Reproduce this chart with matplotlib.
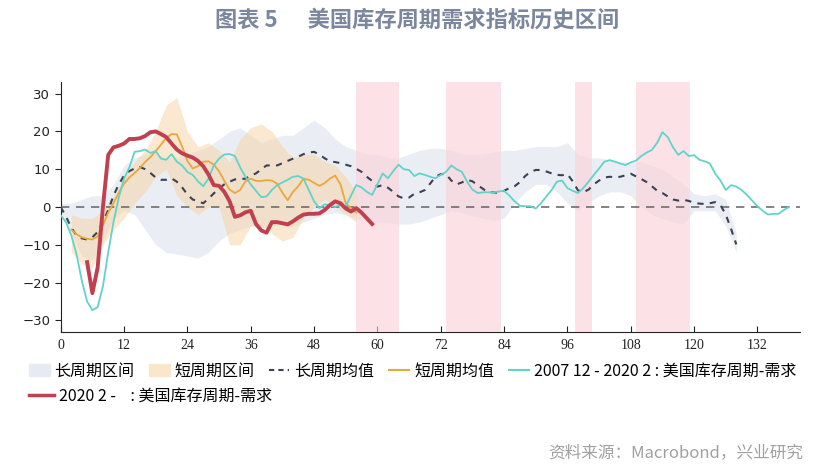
import numpy as np
import matplotlib
matplotlib.use("Agg")
import matplotlib.pyplot as plt
from matplotlib.patches import Patch
from matplotlib.lines import Line2D

plt.rcParams['font.family'] = ['Noto Sans CJK SC', 'DejaVu Sans']

# ---- data ----
months_teal_start = 0
teal = [-2.2, -4.0, -7.5, -12.5, -19.5, -25.0, -27.3, -26.5, -21.0, -12.0,
        -4.0, 2.5, 7.5, 10.5, 14.6, 14.8, 15.2, 14.3, 14.8, 12.8,
        12.5, 14.0, 12.0, 11.0, 9.3, 8.5, 6.8, 5.5, 7.5, 11.0,
        12.8, 13.9, 14.0, 13.5, 10.5, 8.0, 6.0, 4.3, 2.6, 2.8,
        4.5, 5.8, 6.5, 7.2, 8.0, 8.2, 7.5, 4.5, 1.5, -0.3,
        0.7, 0.5, 0.0, 0.6, 0.2, 3.0, 5.8, 5.2, 4.0, 3.2,
        6.0, 8.9, 7.6, 9.5, 11.2, 10.0, 9.8, 8.2, 8.9, 8.5,
        8.0, 7.6, 8.5, 9.3, 11.0, 10.0, 9.3, 6.7, 4.6, 3.7,
        3.9, 3.9, 3.9, 4.1, 4.3, 3.0, 1.5, 0.3, 0.2, 0.2,
        -0.4, 1.0, 2.8, 4.5, 6.7, 7.0, 5.0, 4.3, 3.7, 5.0,
        6.7, 8.5, 10.2, 12.0, 12.4, 12.0, 11.5, 11.1, 11.8, 12.3,
        13.5, 14.4, 15.1, 17.0, 19.8, 18.5, 15.8, 13.8, 14.8, 13.5,
        13.7, 12.5, 12.1, 11.5, 8.8, 7.0, 4.5, 5.8, 5.4, 4.5,
        3.2, 1.7, 0.2, -1.0, -2.0, -1.8, -1.8, -0.8, 0.0]

months_red_start = 5
red = [-14.6, -22.8, -16.0, 0.0, 13.8, 15.8, 16.2, 16.8, 18.0, 18.0,
       18.2, 18.8, 19.8, 20.0, 19.3, 18.5, 16.8, 15.2, 14.2, 13.6,
       13.1, 12.2, 10.8, 8.6, 5.8, 5.6, 4.0, 1.5, -2.6, -2.2,
       -1.4, -1.0, -4.5, -6.2, -6.8, -4.0, -4.0, -4.3, -4.6, -3.8,
       -2.8, -2.0, -1.8, -1.8, -1.7, -0.8, 0.5, 1.5, 1.0, -0.4,
       -1.2, -0.3, -1.5, -3.0, -4.5]

months_long_start = 0
long_mean = [0.0, -2.5, -5.5, -7.5, -8.3, -8.6, -8.0, -6.6, -4.0, -0.8,
             3.0, 6.0, 8.3, 9.5, 10.2, 10.6, 10.0, 9.0, 7.8, 7.2,
             7.2, 7.6, 6.7, 5.2, 3.3, 2.0, 1.5, 1.0, 2.2, 3.6,
             4.9, 6.0, 6.7, 7.3, 7.4, 7.5, 8.3, 8.9, 10.0, 11.0,
             11.0, 11.0, 11.6, 12.2, 12.8, 13.3, 14.0, 14.4, 14.6, 13.9,
             12.9, 12.1, 11.9, 11.6, 11.2, 10.8, 10.1, 9.3, 8.0, 6.9,
             5.4, 5.8, 5.1, 4.0, 2.8, 2.3, 2.5, 3.5, 3.9, 4.5,
             6.2, 8.0, 8.7, 8.7, 7.0, 6.0, 6.5, 7.2, 6.8, 5.8,
             4.8, 3.9, 3.9, 3.7, 4.3, 5.0, 5.5, 6.6, 8.2, 9.3,
             9.8, 9.8, 9.4, 8.9, 8.5, 8.4, 8.7, 6.8, 4.4, 3.9,
             4.6, 6.0, 7.0, 7.8, 8.0, 7.9, 8.0, 8.4, 8.8, 8.1,
             7.4, 6.6, 5.5, 4.3, 3.7, 2.8, 2.0, 1.7, 1.9, 1.6,
             1.1, 0.9, 0.8, 1.0, 1.3, 0.5, -2.0, -5.8, -9.9]

months_short_start = 2
short_mean = [-6.0, -7.2, -8.0, -8.4, -8.6, -7.8, -4.8, -1.5, 1.0, 3.8,
              6.2, 7.8, 9.0, 10.3, 11.9, 13.2, 14.8, 16.5, 18.3, 19.3,
              19.2, 16.0, 12.2, 10.2, 10.8, 12.0, 12.1, 11.2, 9.5, 6.9,
              4.6, 3.7, 4.5, 6.8, 7.5, 6.9, 6.9, 7.1, 7.0, 6.2,
              3.8, 1.8, 4.0, 5.5, 7.5, 7.2, 6.4, 5.6, 6.3, 7.5,
              8.3, 6.0, 1.0, -0.3, -1.5]

# band edges, sampled every 2 months
long_band_x = list(range(0, 130, 2))
long_upper = [1, 1, 2, 3, 3, 6, 11, 13, 14, 14,
              13, 13, 14, 15, 16, 18, 20, 21, 19, 17,
              18, 19, 19, 21, 23, 21, 18, 16, 15, 14,
              14, 13, 13, 14, 15, 15.5, 15.5, 15, 14, 14,
              14, 14.5, 15, 15, 15.5, 16, 16, 16, 17, 14,
              13, 13, 12.5, 12, 12, 12, 11, 10, 8, 6,
              3.5, 3, 3.5, 2, -7]
long_lower = [-1, -7, -13, -14, -9, -3, -1, -2, -6, -10,
              -12, -12.5, -13, -13.5, -12, -9, -7, -6, -5, -5.5,
              -5, -4.5, -5, -4, -3, -2, -1.5, -2, -3, -4,
              -4, -4, -4.5, -4.5, -4, -3, -2, -1, -1.5, -2.5,
              -3, -3.5, -3, 1, 4, 6, 6, 4, 1, -1,
              1, 3, 4, 4, 3, 0, -2, -3, -4, -4.5,
              -1, -1, -1, -5, -12]

short_band_x = list(range(2, 58, 2))
short_upper = [-2, -3, -3, -1, 3, 8, 12, 15, 20, 27,
               29, 20, 16, 17, 15, 12, 18, 21, 22, 20,
               16, 13, 14, 14, 12, 11, 8, 4]
short_lower = [-12, -15, -16, -10, -6, -3, 1, 4, 8, 10,
               3, 0, -2, 0, 0, -10, -10, -5, -5, -7,
               -9, -8, -3, 0, 2, 0, -2, -4]

span_start = [56, 73, 97.5, 109]
span_end = [64, 83.5, 100.7, 119.3]

xticks = list(range(0, 133, 12))
yticks = [-30, -20, -10, 0, 10, 20, 30]

# ---- colours ----
c_long_band = '#d6deeb'
c_short_band = '#f6d2a2'
c_span = '#fbd0d6'
c_long = '#3b4153'
c_short = '#e9a83e'
c_teal = '#62d3c8'
c_red = '#c0404f'

fig = plt.figure(figsize=(8.35, 4.75), dpi=100)
ax = fig.add_axes([0.0727, 0.3017, 0.885, 0.525])

ax.fill_between(long_band_x, long_lower, long_upper, color=c_long_band,
                alpha=0.5, lw=0, zorder=1)
ax.fill_between(short_band_x, short_lower, short_upper, color=c_short_band,
                alpha=0.5, lw=0, zorder=2)
for s, e in zip(span_start, span_end):
    ax.axvspan(s, e, color=c_span, alpha=0.6, lw=0, zorder=3)

ax.axhline(0, color='#6e6e6e', lw=1.2, dashes=(5, 4), zorder=4)

x_long = np.arange(len(long_mean)) + months_long_start
x_short = np.arange(len(short_mean)) + months_short_start
x_teal = np.arange(len(teal)) + months_teal_start
x_red = np.arange(len(red)) + months_red_start

ax.plot(x_long, long_mean, color=c_long, lw=1.5, dashes=(3, 3), zorder=5)
ax.plot(x_short, short_mean, color=c_short, lw=1.3, zorder=6)
ax.plot(x_teal, teal, color=c_teal, lw=1.3, zorder=7)
ax.plot(x_red, red, color=c_red, lw=2.8, zorder=8)

ax.set_xlim(0, 140)
ax.set_ylim(-33, 33)
ax.set_xticks(xticks)
ax.set_yticks(yticks)
for sp in ['top', 'right']:
    ax.spines[sp].set_visible(False)
ax.spines['left'].set_color('#222222')
ax.spines['bottom'].set_color('#222222')
ax.tick_params(axis='x', direction='in', length=4, labelsize=10, pad=5, colors='#222222')
ax.tick_params(axis='y', direction='out', length=4, labelsize=10, colors='#222222')
for lab in ax.get_xticklabels():
    lab.set_family('Liberation Serif')
for lab in ax.get_yticklabels():
    lab.set_family('DejaVu Sans')
    lab.set_fontsize(9.5)

# legends
h1 = [Patch(color='#e6eaf2', label='长周期区间'),
      Patch(color='#fae6cb', label='短周期区间'),
      Line2D([], [], color=c_long, lw=1.5, dashes=(2.5, 2), label='长周期均值'),
      Line2D([], [], color=c_short, lw=1.5, label='短周期均值'),
      Line2D([], [], color=c_teal, lw=1.5, label='2007 12 - 2020 2 : 美国库存周期-需求')]
fig.legend(handles=h1, loc='upper left', bbox_to_anchor=(0.025, 0.253),
           ncol=5, frameon=False, fontsize=11.5, handlelength=1.3,
           handleheight=0.8, handletextpad=0.3, columnspacing=0.9, borderpad=0)
h2 = [Line2D([], [], color=c_red, lw=2.5, label='2020 2 -    : 美国库存周期-需求')]
fig.legend(handles=h2, loc='upper left', bbox_to_anchor=(0.025, 0.2),
           frameon=False, fontsize=11.5, handlelength=1.6, handletextpad=0.3,
           borderpad=0)

fig.text(0.5, 0.957, '图表 5      美国库存周期需求指标历史区间', ha='center', va='center',
         fontsize=16, fontweight='bold', color='#7b879c')
fig.text(0.962, 0.047, '资料来源：Macrobond，兴业研究', ha='right', va='center',
         fontsize=12, color='#a0a0a0')

fig.savefig('out.png', dpi=100)
